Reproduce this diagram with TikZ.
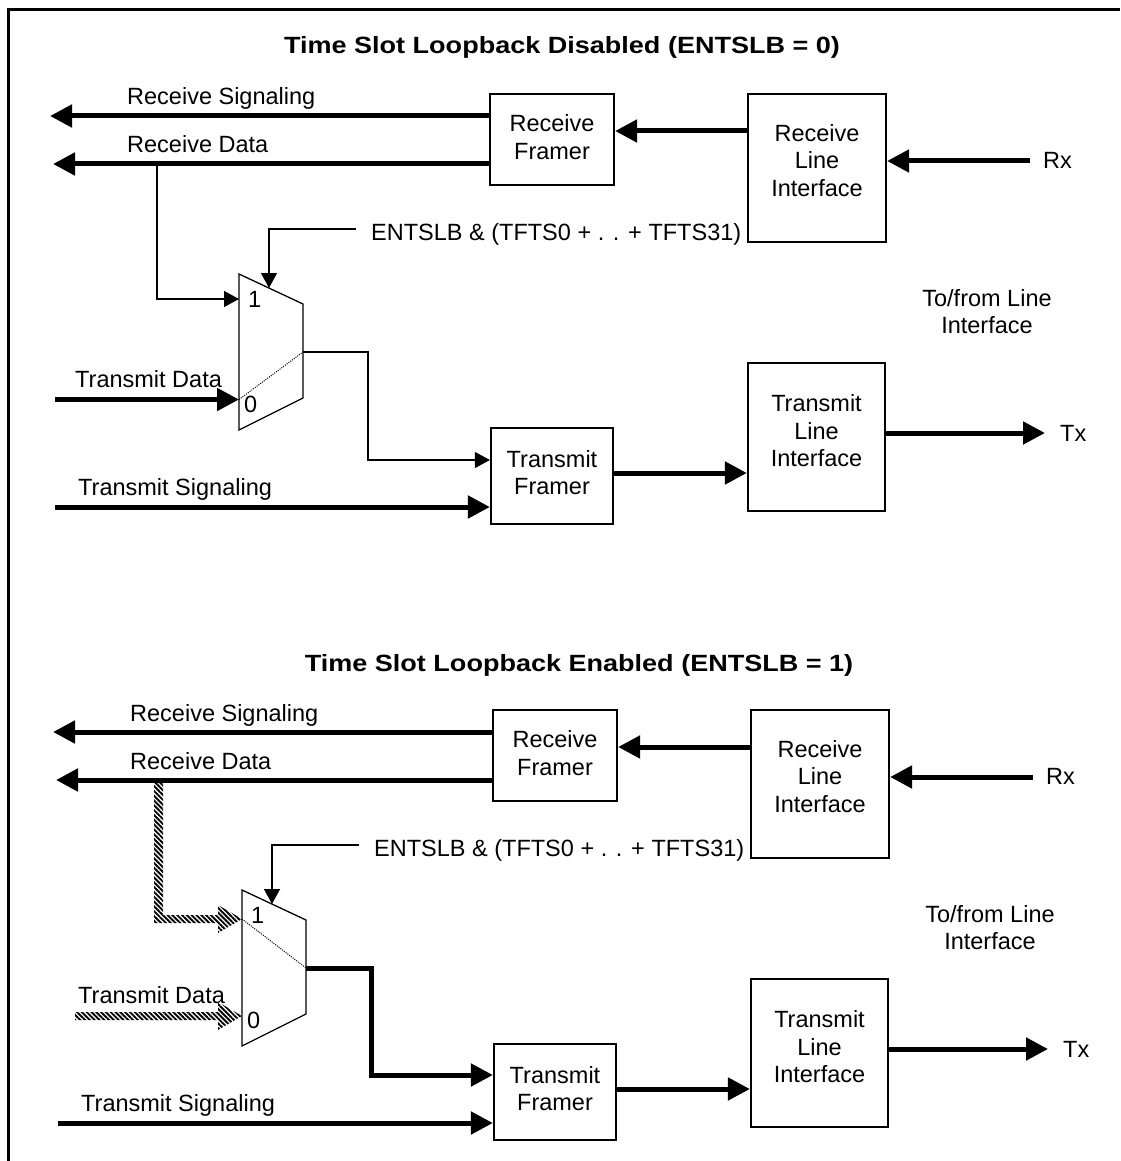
\documentclass[tikz,border=0pt]{standalone}
\usepackage{fontspec}
\setmainfont{Liberation Sans}
\usepackage{graphicx}
\usetikzlibrary{arrows.meta,patterns.meta}

\tikzset{
  lbl/.style={font=\fontsize{23.5}{27.5}\selectfont, inner sep=0pt},
  blk/.style={draw, line width=2.2pt, inner sep=0pt},
  thickarr/.style={line width=5pt, -{Triangle[length=22pt,width=22pt]}},
  thinarr/.style={line width=1.3pt, -{Triangle[length=15pt,width=16pt]}},
  muxshape/.style={draw, line width=1.3pt, line join=miter},
  dotline/.style={line width=1pt, dash pattern=on 1pt off 1.2pt},
  hatch/.style={pattern={Lines[angle=-45,distance=3.4pt,line width=1.9pt]}},
  heavy/.style={line width=5pt, line join=miter},
}

\newcommand\sectioncommon[1]{%
  % blocks
  \node[blk, minimum width=124pt, minimum height=91pt] (rf#1) at (552,139.5) {};
  \node[lbl, align=center] (rft#1) at (552,137) {Receive\\Framer};
  \node[blk, minimum width=138pt, minimum height=148pt] (rli#1) at (817,168) {};
  \node[lbl, align=center] (rlit#1) at (817,160.5) {Receive\\Line\\Interface};
  \node[blk, minimum width=122pt, minimum height=96pt] (tf#1) at (552,476) {};
  \node[lbl, align=center] (tft#1) at (552,472.5) {Transmit\\Framer};
  \node[blk, minimum width=137pt, minimum height=148pt] (tli#1) at (816.5,437) {};
  \node[lbl, align=center] (tlit#1) at (816.5,431) {Transmit\\Line\\Interface};
  % receive side
  \coordinate (rs#1) at (50,116);
  \coordinate (rd#1) at (53,164);
  \draw[thickarr] (rf#1.west |- rs#1) -- (rs#1);
  \draw[thickarr] (rf#1.west |- rd#1) -- (rd#1);
  \node[lbl, anchor=base west] (rsl#1) at (127,105) {Receive Signaling};
  \node[lbl, anchor=base west] (rdl#1) at (127,153) {Receive Data};
  \draw[thickarr] (rli#1.west |- 0,131) -- (rf#1.east |- 0,131);
  \coordinate (rx#1) at (1030,161);
  \draw[thickarr] (rx#1) -- (rli#1.east |- rx#1);
  \node[lbl, anchor=west] (rxl#1) at (1043,160) {Rx};
  % transmit side
  \draw[thickarr] (tf#1.east |- 0,473) -- (tli#1.west |- 0,473);
  \coordinate (tx#1) at (1045,433);
  \draw[thickarr] (tli#1.east |- tx#1) -- (tx#1);
  \node[lbl, anchor=west] (txl#1) at (1060,433) {Tx};
  \coordinate (ts#1) at (55,507);
  \draw[thickarr] (ts#1) -- (tf#1.west |- ts#1);
  \node[lbl, anchor=base west] (tsl#1) at (78,495) {Transmit Signaling};
  \node[lbl, anchor=base west] (tdl#1) at (75,387) {Transmit Data};
  \node[lbl, align=center] (tfl#1) at (987,311.5) {To/from Line\\Interface};
  % mux
  \coordinate (ma#1) at (239,274);
  \coordinate (mb#1) at (303,304);
  \coordinate (mc#1) at (303,398);
  \coordinate (md#1) at (239,430);
  \draw[muxshape] (ma#1) -- (mb#1) -- (mc#1) -- (md#1) -- cycle;
  \coordinate (in1#1) at (239,299);
  \coordinate (in0#1) at (239,399.5);
  \coordinate (sel#1) at (269,288);
  \coordinate (out#1) at (303,352);
  \node[lbl, anchor=base west] (one#1) at (248,307) {1};
  \node[lbl, anchor=base west] (zero#1) at (244,412) {0};
  % select
  \coordinate (selsrc#1) at (356,229);
  \draw[thinarr] (selsrc#1) -| (sel#1);
  \node[lbl, anchor=base west] (entl#1) at (371,240) {ENTSLB \& (TFTS0 + . . + TFTS31)};
  \coordinate (tfin#1) at (368,460);
}

\begin{document}
\begin{tikzpicture}[x=1pt,y=-1pt]
\useasboundingbox (0,0) rectangle (1120,1161);
% frame
\coordinate (frtl) at (8,10);
\coordinate (frtr) at (1120,10);
\coordinate (frbl) at (8,1161);
\draw[line width=3pt] (frtr) -- (frtl) -- (frbl);

% titles
\node[inner sep=0pt, font=\fontsize{23.5}{27}\selectfont\bfseries] (title1) at (562,47)
  {\scalebox{1.15}[1]{Time Slot Loopback Disabled (ENTSLB = 0)}};
\node[inner sep=0pt, font=\fontsize{23.5}{27}\selectfont\bfseries] (title2) at (579,665)
  {\scalebox{1.15}[1]{Time Slot Loopback Enabled (ENTSLB = 1)}};

% ---------- top: disabled ----------
\begin{scope}
  \sectioncommon{a}
  \coordinate (tapa) at (157,164);
  \draw[thinarr] (tapa) |- (in1a);
  \coordinate (tdsa) at (55,399.5);
  \draw[thickarr] (tdsa) -- (in0a);
  \draw[dotline] (in0a) -- (outa);
  \draw[thinarr] (outa) -| (tfina) -- (tfa.west |- tfina);
\end{scope}

% ---------- bottom: enabled ----------
\begin{scope}[shift={(3,616)}]
  \sectioncommon{b}
  % hatched loopback path from Receive Data to mux input 1
  \fill[hatch] (151,164) -- (160,164) -- (160,299) -- (215,299) -- (215,289)
     -- (239,303) -- (215,317) -- (215,307) -- (151,307) -- cycle;
  % hatched transmit data to mux input 0
  \fill[hatch] (72,396) -- (215,396) -- (215,386) -- (239,400) -- (215,414)
     -- (215,404) -- (72,404) -- cycle;
  \draw[dotline] (in1b) ++(0,4) -- (outb);
  \draw[heavy, -{Triangle[length=22pt,width=22pt]}] (outb) -| (368,459) -- (tfb.west |- 0,459);
\end{scope}
\end{tikzpicture}
\end{document}
